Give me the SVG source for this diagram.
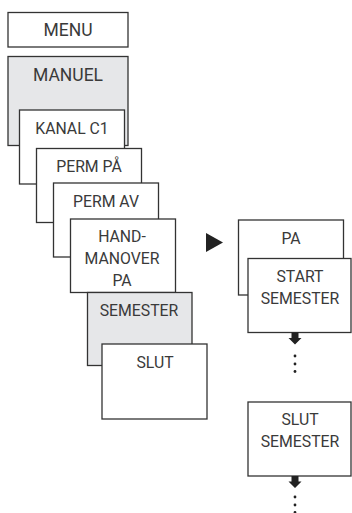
<svg xmlns="http://www.w3.org/2000/svg" width="352" height="513" viewBox="0 0 352 513">
<style>
.b{fill:#fff;stroke:#333;stroke-width:1.3}
.g{fill:#e6e7e9;stroke:#333;stroke-width:1.3}
text{font-family:Roboto,"Liberation Sans",sans-serif;font-size:15.8px;font-weight:400;fill:#3a3a3a;text-anchor:middle}
.big{font-size:17.5px}
.k{fill:#222}
</style>
<rect width="352" height="513" fill="#fff"/>
<g id="menu"><rect class="b" x="8" y="12.5" width="120" height="34.5"/><text class="big" x="68" y="36">MENU</text></g>
<g id="manuel"><rect class="g" x="8" y="56.5" width="120" height="89"/><text class="big" x="68" y="80.5">MANUEL</text></g>
<g id="kanal"><rect class="b" x="19.5" y="110" width="105" height="74"/><text x="72" y="134">KANAL C1</text></g>
<g id="permpa"><rect class="b" x="36.5" y="148.5" width="105" height="74"/><text x="89" y="172">PERM PÅ</text></g>
<g id="permav"><rect class="b" x="53.5" y="183" width="105" height="74"/><text x="106" y="207">PERM AV</text></g>
<g id="hand"><rect class="b" x="70.5" y="219" width="105" height="73.5"/><text x="122" y="242">HAND-</text><text x="122" y="264">MANOVER</text><text x="122" y="286">PA</text></g>
<g id="semester"><rect class="g" x="87.5" y="292.5" width="104.5" height="73"/><text x="139" y="315.5">SEMESTER</text></g>
<g id="slut"><rect class="b" x="102" y="344" width="105" height="75"/><text x="155" y="368">SLUT</text></g>
<g id="pa"><rect class="b" x="238.5" y="220" width="105" height="75"/><text x="291" y="244">PA</text></g>
<g id="start"><rect class="b" x="248" y="258.5" width="103" height="74"/><text x="300" y="281.5">START</text><text x="300" y="303.5">SEMESTER</text></g>
<g id="slutsem"><rect class="b" x="248" y="402" width="103" height="74"/><text x="300" y="425">SLUT</text><text x="300" y="447">SEMESTER</text></g>
<g id="connectors">
<polygon class="k" points="206,233 223,242.5 206,252"/>
<path class="k" d="M291.5,332.5h7v5.5h3l-6.5,6.5l-6.5,-6.5h3z"/>
<circle class="k" cx="295" cy="356" r="1.4"/><circle class="k" cx="295" cy="364" r="1.4"/><circle class="k" cx="295" cy="371.5" r="1.4"/>
<path class="k" d="M291.5,476h7v5.5h3l-6.5,6.5l-6.5,-6.5h3z"/>
<circle class="k" cx="295" cy="497" r="1.4"/><circle class="k" cx="295" cy="505" r="1.4"/><circle class="k" cx="295" cy="512.5" r="1.4"/>
</g>
</svg>
